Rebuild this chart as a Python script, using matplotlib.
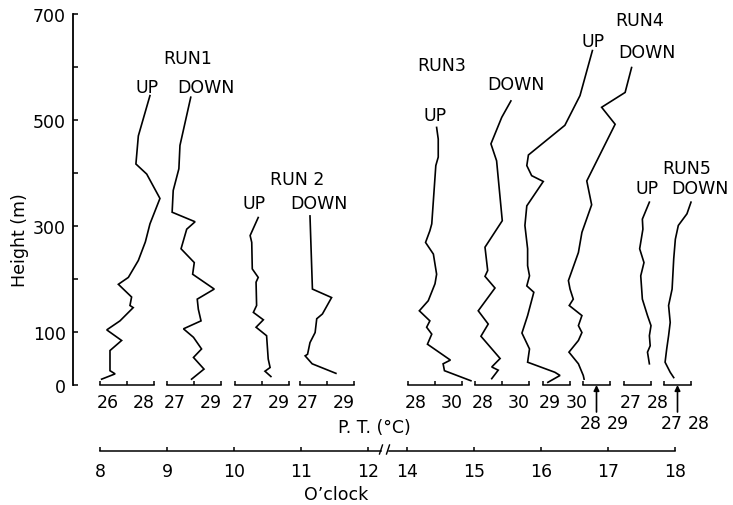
import matplotlib
matplotlib.use("Agg")
import matplotlib.pyplot as plt
from matplotlib.lines import Line2D

plt.rcParams['font.family'] = ['DejaVu Sans']
FS = 12.5

# ---------------------------------------------------------------------------
# Potential-temperature profiles: height (m) and P.T. (deg C)
# ---------------------------------------------------------------------------
run1_up_h = [546, 470, 417, 398, 352, 304, 270, 235, 203, 190, 166, 150, 146,
             121, 104, 84, 65, 27, 21, 11]
run1_up_t = [27.85, 27.42, 27.33, 27.73, 28.22, 27.85, 27.68, 27.42, 27.05,
             26.68, 27.17, 27.11, 27.23, 26.74, 26.25, 26.80, 26.37, 26.37,
             26.56, 26.06]

run1_down_h = [543, 452, 408, 367, 326, 308, 294, 257, 231, 209, 181, 162,
               143, 121, 106, 90, 68, 52, 30, 11]
run1_down_t = [27.88, 27.48, 27.44, 27.23, 27.19, 28.04, 27.73, 27.52, 28.01,
               27.95, 28.75, 28.12, 28.16, 28.26, 27.61, 27.98, 28.28, 27.98,
               28.37, 27.91]

run2_up_h = [316, 282, 269, 219, 203, 194, 150, 137, 123, 109, 93, 49, 33,
             26, 16]
run2_up_t = [27.86, 27.56, 27.62, 27.64, 27.86, 27.78, 27.80, 27.68, 28.05,
             27.78, 28.17, 28.23, 28.30, 28.11, 28.33]

run2_down_h = [319, 181, 165, 134, 125, 99, 80, 58, 55, 40, 22]
run2_down_t = [27.37, 27.46, 28.17, 27.83, 27.62, 27.56, 27.37, 27.28, 27.19,
               27.45, 28.33]

run3_up_h = [486, 464, 430, 414, 304, 291, 269, 247, 209, 191, 159, 140, 121,
             109, 96, 77, 47, 40, 27, 8]
run3_up_t = [29.06, 29.12, 29.12, 29.03, 28.88, 28.81, 28.65, 28.94, 29.06,
             29.00, 28.75, 28.42, 28.81, 28.69, 28.88, 28.72, 29.57, 29.30,
             29.35, 30.33]

run3_down_h = [536, 505, 455, 423, 310, 260, 216, 205, 183, 140, 115, 92, 50,
               34, 28, 12]
run3_down_t = [29.33, 28.99, 28.59, 28.80, 29.01, 28.37, 28.47, 28.37, 28.74,
               28.12, 28.49, 28.22, 28.93, 28.62, 28.86, 28.62]

run4_up_h = [631, 546, 490, 434, 414, 395, 384, 338, 301, 257, 225, 206, 187,
             175, 131, 98, 68, 43, 24, 18, 5]
run4_up_t = [30.83, 30.37, 29.81, 28.46, 28.40, 28.58, 29.01, 28.40, 28.33,
             28.43, 28.43, 28.50, 28.40, 28.66, 28.43, 28.22, 28.50, 28.43,
             29.44, 29.63, 29.18]

run4_down_h = [599, 552, 524, 492, 385, 340, 288, 250, 197, 181, 162, 150,
               131, 112, 99, 84, 62, 40, 18, 11]
run4_down_t = [29.80, 29.56, 28.69, 29.19, 28.14, 28.32, 27.96, 27.83, 27.46,
               27.52, 27.64, 27.49, 27.96, 27.83, 27.96, 27.83, 27.48, 27.83,
               28.01, 28.04]

run5_up_h = [345, 313, 294, 257, 231, 206, 162, 131, 112, 93, 74, 62, 40]
run5_up_t = [27.94, 27.68, 27.70, 27.58, 27.74, 27.62, 27.68, 27.87, 28.00,
             27.94, 27.97, 27.87, 27.94]

run5_down_h = [345, 323, 301, 275, 238, 181, 150, 118, 93, 68, 43, 24, 14]
run5_down_t = [28.00, 27.85, 27.53, 27.42, 27.36, 27.30, 27.17, 27.23, 27.17,
               27.10, 27.04, 27.23, 27.36]

# temperature range of each profile's scale bar
scale_ranges = [(26, 28), (27, 29), (27, 29), (27, 29), (28, 30), (28, 30),
                (29, 30), (28, 29), (27, 28), (27, 28)]

height_ticks = [0, 100, 200, 300, 400, 500, 600, 700]
height_labels = ['0', '100', '', '300', '', '500', '', '700']

hour_ticks_am = [8, 9, 10, 11, 12]
hour_ticks_pm = [14, 15, 16, 17, 18]

profiles = [
    (run1_up_t, run1_up_h), (run1_down_t, run1_down_h),
    (run2_up_t, run2_up_h), (run2_down_t, run2_down_h),
    (run3_up_t, run3_up_h), (run3_down_t, run3_down_h),
    (run4_up_t, run4_up_h), (run4_down_t, run4_down_h),
    (run5_up_t, run5_up_h), (run5_down_t, run5_down_h),
]

# ---------------------------------------------------------------------------
# Layout (pixels)
# ---------------------------------------------------------------------------
W, H = 733, 506
PX = 0.72                      # points per pixel at 100 dpi
Y_TOP, Y_BOT = 15, 386         # 700 m and 0 m
PX_PER_DEG = 27
bar_left = [100, 167, 235, 300, 408, 475, 543, 583, 624, 664]
# label style of each scale bar: 'wide' (2 deg), 'row1', 'arrow'
bar_style = ['wide'] * 6 + ['row1', 'arrow', 'row1', 'arrow']

fig = plt.figure(figsize=(W / 100, H / 100), dpi=100)
fig.patch.set_facecolor('white')


def rect(x0, y_top, x1, y_bot):
    return [x0 / W, 1 - y_bot / H, (x1 - x0) / W, (y_bot - y_top) / H]


def ftext(x, y, s, **kw):
    fig.text(x / W, 1 - y / H, s, ha='center', va='center', **kw)


LW_AX = 1.1
LW_TR = 1.2

# height axis
ax_h = fig.add_axes(rect(73, Y_TOP, 720, Y_BOT))
ax_h.patch.set_visible(False)
for s in ('top', 'right', 'bottom'):
    ax_h.spines[s].set_visible(False)
ax_h.spines['left'].set_linewidth(1.3)
ax_h.set_ylim(0, 700)
ax_h.set_xticks([])
ax_h.set_yticks(height_ticks, height_labels)
ax_h.tick_params(axis='y', direction='in', length=3.5, width=1.1, pad=5,
                 labelsize=FS)

# profiles, each on its own temperature scale bar
for (temps, hts), (lo, hi), left, style in zip(profiles, scale_ranges,
                                               bar_left, bar_style):
    right = left + PX_PER_DEG * (hi - lo)
    ax = fig.add_axes(rect(left, Y_TOP, right, Y_BOT))
    ax.patch.set_visible(False)
    for s in ('top', 'right', 'left'):
        ax.spines[s].set_visible(False)
    ax.spines['bottom'].set_linewidth(LW_AX)
    ax.set_xlim(lo, hi)
    ax.set_ylim(0, 700)
    ax.set_yticks([])
    ax.set_xticks(list(range(lo, hi + 1)))
    ax.tick_params(axis='x', direction='in', length=3, width=LW_AX,
                   labelbottom=False)
    ax.plot(temps, hts, color='black', lw=LW_TR, clip_on=False,
            solid_joinstyle='miter')

    if style == 'wide':
        marks = [(lo, 'left', -3), (hi, 'right', 1)]
        base = -22
    elif style == 'row1':
        marks = [(lo, 'left', -4), (hi, 'left', -4)]
        base = -22
    else:
        marks = [(lo, 'left', -3), (hi, 'left', -3)]
        base = -43
        mid = (lo + hi) / 2
        ax.annotate('', xy=(mid, 0), xycoords=('data', 'axes fraction'),
                    xytext=(0, -27 * PX), textcoords='offset points',
                    arrowprops=dict(arrowstyle='-|>', lw=1.2, color='black',
                                    mutation_scale=8, shrinkA=0, shrinkB=0))
    for val, ha, dx in marks:
        ax.annotate(str(val), xy=(val, 0), xycoords=('data', 'axes fraction'),
                    xytext=(dx * PX, base * PX), textcoords='offset points',
                    ha=ha, va='baseline', fontsize=FS, annotation_clip=False)

# time axis (broken between 12 and 14 o'clock)
HOUR_PX = 67
Y_TIME = 452
for hours, x0, x1, (h0, h1) in [
        (hour_ticks_am, 100, 381, (8, 8 + (381 - 100) / HOUR_PX)),
        (hour_ticks_pm, 389, 675, (18 - (675 - 389) / HOUR_PX, 18))]:
    axt = fig.add_axes(rect(x0, Y_TIME - 10, x1, Y_TIME))
    axt.patch.set_visible(False)
    for s in ('top', 'right', 'left'):
        axt.spines[s].set_visible(False)
    axt.spines['bottom'].set_linewidth(LW_AX)
    axt.set_xlim(h0, h1)
    axt.set_yticks([])
    axt.set_xticks(hours, [str(v) for v in hours])
    axt.tick_params(axis='x', direction='in', length=3, width=LW_AX,
                    pad=8, labelsize=FS)

# break marks on the time axis
for bx in (381, 388):
    fig.add_artist(Line2D([(bx - 1.5) / W, (bx + 1.5) / W],
                          [1 - (Y_TIME + 3) / H, 1 - (Y_TIME - 6) / H],
                          color='black', lw=1.0))

# run labels
run_labels = [("RUN1", 188, 59), ("UP", 147, 88), ("DOWN", 206, 88),
              ("RUN 2", 297, 180), ("UP", 254, 204), ("DOWN", 319, 204),
              ("RUN3", 442, 66), ("UP", 435, 116), ("DOWN", 516, 85),
              ("RUN4", 640, 21), ("UP", 593, 42), ("DOWN", 647, 53),
              ("RUN5", 687, 169), ("UP", 647, 189), ("DOWN", 700, 189)]
for s, x, y in run_labels:
    ftext(x, y, s, fontsize=FS)

ftext(374, 428, "P. T. (°C)", fontsize=FS)
ftext(336, 495, "O\u2019clock", fontsize=FS)
ftext(20, 240, "Height (m)", fontsize=FS, rotation=90)

fig.savefig("out.png", dpi=100, facecolor='white')
